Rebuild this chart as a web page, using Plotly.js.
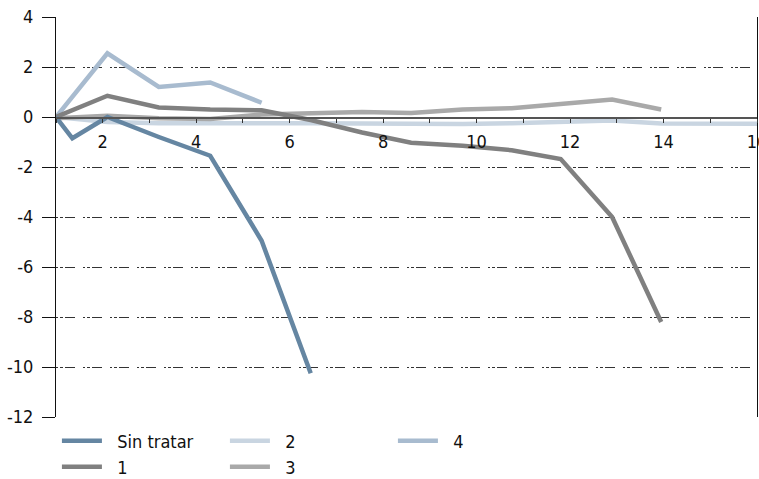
<!DOCTYPE html>
<html>
<head>
<meta charset="utf-8">
<script src="https://cdn.plot.ly/plotly-3.0.1.min.js"></script>
<style>
html,body{margin:0;padding:0;background:#fff;}
#chart{width:759px;height:479px;}
#chart text{font-stretch:condensed;}
</style>
</head>
<body>
<div id="chart"></div>
<script>
// Series names
const seriesNames = ['Sin tratar', '1', '2', '3', '4'];

// X positions
const xSinTratar = [1, 1.35, 2.1, 3.2, 4.3, 5.4, 6.45];
const xCommon = [1, 2.1, 3.2, 4.3, 5.4, 6.45, 7.55, 8.6, 9.7, 10.75, 11.8, 12.9, 13.95, 15, 16];

// Y values
const ySinTratar = [0, -0.85, 0, -0.8, -1.55, -4.95, -10.25];
const y1 = [0, 0.85, 0.38, 0.3, 0.27, -0.12, -0.62, -1.03, -1.15, -1.33, -1.68, -4.0, -8.2];
const y2 = [0, -0.2, -0.25, -0.27, -0.25, -0.25, -0.27, -0.3, -0.28, -0.25, -0.18, -0.14, -0.26, -0.27, -0.27];
const y3 = [-0.05, 0.05, -0.05, -0.08, 0.1, 0.13, 0.2, 0.16, 0.3, 0.35, 0.5, 0.7, 0.3];
const y4 = [0, 2.55, 1.2, 1.38, 0.57];

// Y tick labels (plain hyphen minus as in the reference)
const yTickVals = [-12, -10, -8, -6, -4, -2, 0, 2, 4];
const yTickText = ['-12', '-10', '-8', '-6', '-4', '-2', '0', '2', '4'];

const colors = {
  'Sin tratar': '#6586a2',
  '1': '#808080',
  '2': '#c9d5e1',
  '3': '#a9a9a9',
  '4': '#a8bbcf'
};

const fontFam = '"Liberation Sans Narrow", "DejaVu Sans Condensed", "Arial Narrow", sans-serif';
const fs = 18;
const lw = 4.5;
const pad = '\u00a0\u00a0';

function tr(name, xs, ys, legend, rank) {
  return {
    type: 'scatter', mode: 'lines', name: pad + name,
    x: xs.slice(0, ys.length), y: ys,
    line: {color: colors[name], width: lw},
    legend: legend, legendrank: rank,
    hoverinfo: 'skip'
  };
}

const data = [
  tr('2', xCommon, y2, 'legend', 2),
  tr('3', xCommon, y3, 'legend2', 2),
  tr('4', xCommon, y4, 'legend', 3),
  tr('1', xCommon, y1, 'legend2', 1),
  tr('Sin tratar', xSinTratar, ySinTratar, 'legend', 1)
];

const gridDash = '2px,2px,3px,2px,10px,8px';

const legendCommon = {
  orientation: 'h', xref: 'container', yref: 'container',
  x: 0.075, xanchor: 'left', yanchor: 'middle',
  entrywidth: 113, itemwidth: 40,
  font: {family: fontFam, size: fs, color: '#111'},
  bgcolor: 'rgba(0,0,0,0)', traceorder: 'normal'
};

const layout = {
  width: 759, height: 479,
  margin: {l: 56, r: 2, t: 17, b: 62},
  paper_bgcolor: '#fff', plot_bgcolor: '#fff',
  font: {family: fontFam, size: fs, color: '#111'},
  showlegend: true,
  xaxis: {
    range: [1, 16], tick0: 0, dtick: 2,
    anchor: 'free', position: 0.75,
    ticks: 'outside', ticklen: 4, tickwidth: 1, tickcolor: '#333',
    minor: {dtick: 1, tick0: 0, ticks: 'outside', ticklen: 4, tickwidth: 1, tickcolor: '#333'},
    showline: true, linecolor: '#555', linewidth: 1.5,
    showgrid: false, zeroline: false,
    ticklabeloverflow: 'allow', ticklabelstandoff: 4,
    tickfont: {family: fontFam, size: fs, color: '#111'},
    fixedrange: true
  },
  xaxis2: {
    range: [1, 16], tick0: 0, dtick: 1,
    overlaying: 'x', anchor: 'free', position: 0.75, side: 'top',
    ticks: 'outside', ticklen: 4, tickwidth: 1, tickcolor: '#333',
    showticklabels: false, showline: false, showgrid: false, zeroline: false
  },
  yaxis: {
    range: [-12, 4], tickmode: 'array', tickvals: yTickVals, ticktext: yTickText,
    ticks: 'outside', ticklen: 13, tickwidth: 1, tickcolor: '#111',
    showline: true, linecolor: '#111', linewidth: 1, mirror: true,
    showgrid: true, gridcolor: '#333', gridwidth: 1, griddash: gridDash,
    zeroline: false, ticklabelstandoff: 5,
    tickfont: {family: fontFam, size: fs, color: '#111'},
    fixedrange: true
  },
  yaxis2: {
    range: [-12, 4], tick0: 0, dtick: 2,
    overlaying: 'y', anchor: 'free', position: 0, side: 'right',
    ticks: 'outside', ticklen: 6, tickwidth: 1, tickcolor: '#111',
    showticklabels: false, showline: false, showgrid: false, zeroline: false
  },
  legend: Object.assign({}, legendCommon, {y: 1 - 441 / 479}),
  legend2: Object.assign({}, legendCommon, {y: 1 - 467 / 479})
};

Plotly.newPlot('chart', data, layout, {displayModeBar: false, staticPlot: true});
</script>
</body>
</html>
